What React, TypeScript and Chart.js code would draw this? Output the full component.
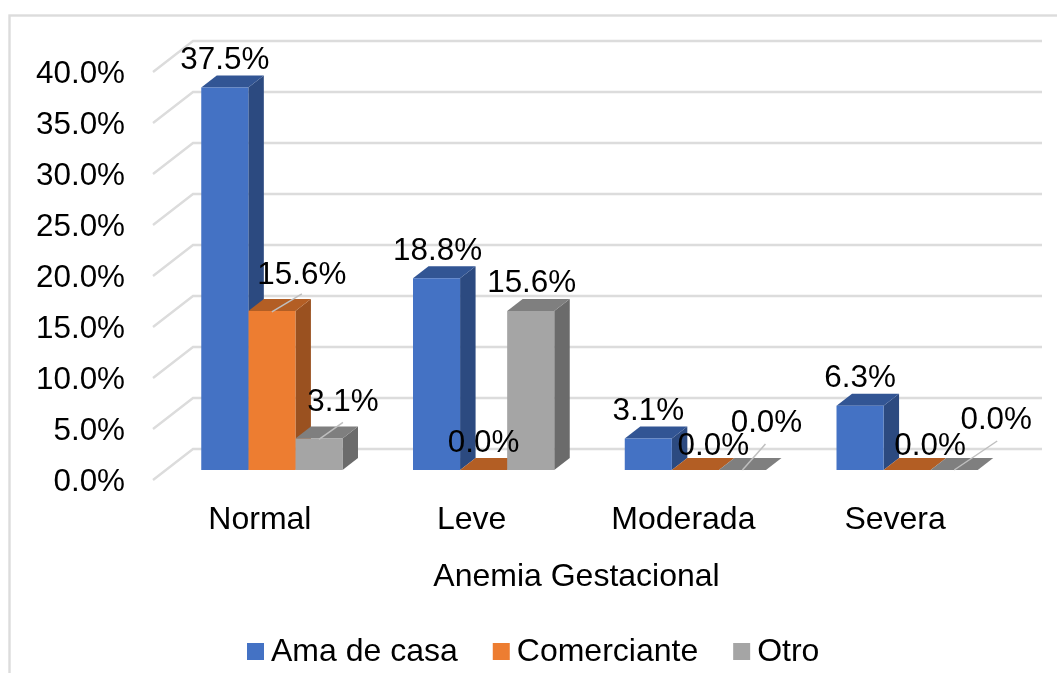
import React, { useEffect, useRef } from "react";
import { Chart, registerables } from "chart.js";

Chart.register(...registerables);

const categories = ["Normal", "Leve", "Moderada", "Severa"];
const seriesNames = ["Ama de casa", "Comerciante", "Otro"];
const amaDeCasa = [37.5, 18.8, 3.1, 6.3];
const comerciante = [15.6, 0.0, 0.0, 0.0];
const otro = [3.1, 15.6, 0.0, 0.0];

const frontColors = ["#4472C4", "#ED7D31", "#A5A5A5"];
const topColors = ["#325594", "#B35E24", "#7F7F7F"];
const sideColors = ["#2C4A80", "#9A5120", "#6B6B6B"];

const FONT = '"Liberation Sans", Arial, sans-serif';
const FONT_SIZE = 32;
const NUMBER_FONT_SIZE = 31.4;
const GRID = "#DCDCDC";
const WALL = { dx: 40, dy: -31, rightExtra: 42 };
const BAR_SHIFT = { dx: 13, dy: -10 };
const BAR_DEPTH = { dx: 15.5, dy: -12 };

// Per series, per category: label centre relative to the bar's front-top centre
const labelNudges = [
  [[0, -27], [1, -27], [0, -27], [0, -27]],
  [[30, -36], [0, -27], [18, -24], [23, -24]],
  [[24, -36], [1, -28], [24, -47], [42, -50]],
];
// Leader lines: [start dx, start dy, end dx, end dy], same reference point
const leaders = [
  [null, null, null, null],
  [[0, 1, 30, -17], null, null, null],
  [[0, 1, 24, -16], null, [0, 0, 23, -26], [0, 0, 43, -29]],
];

const wallPlugin = {
  id: "wall",
  beforeDatasetsDraw(chart: any) {
    const { ctx, chartArea, scales } = chart;
    ctx.save();
    ctx.strokeStyle = GRID;
    ctx.lineWidth = 2.4;
    ctx.strokeRect(9.5, 15.5, 1100, 800);
    scales.y.ticks.forEach((t: any) => {
      const y = scales.y.getPixelForValue(t.value);
      ctx.beginPath();
      ctx.moveTo(chartArea.left, y);
      ctx.lineTo(chartArea.left + WALL.dx, y + WALL.dy);
      ctx.lineTo(chartArea.right + WALL.rightExtra, y + WALL.dy);
      ctx.stroke();
    });
    ctx.restore();

    // bars are set back from the floor's front edge; everything until
    // afterDatasetsDraw is drawn in that shifted frame
    ctx.save();
    ctx.translate(BAR_SHIFT.dx, BAR_SHIFT.dy);
    chart.data.datasets.forEach((_: any, s: number) => {
      chart.getDatasetMeta(s).data.forEach((bar: any) => {
        const l = bar.x - bar.width / 2;
        const r = bar.x + bar.width / 2;
        const t = bar.y;
        const b = bar.base;
        const { dx, dy } = BAR_DEPTH;
        ctx.fillStyle = sideColors[s];
        ctx.beginPath();
        ctx.moveTo(r, t);
        ctx.lineTo(r + dx, t + dy);
        ctx.lineTo(r + dx, b + dy);
        ctx.lineTo(r, b);
        ctx.closePath();
        ctx.fill();
        ctx.fillStyle = topColors[s];
        ctx.beginPath();
        ctx.moveTo(l, t);
        ctx.lineTo(l + dx, t + dy);
        ctx.lineTo(r + dx, t + dy);
        ctx.lineTo(r, t);
        ctx.closePath();
        ctx.fill();
      });
    });
  },
  afterDatasetsDraw(chart: any) {
    const { ctx } = chart;
    ctx.strokeStyle = "#BFBFBF";
    ctx.lineWidth = 1.5;
    chart.data.datasets.forEach((_: any, s: number) => {
      chart.getDatasetMeta(s).data.forEach((bar: any, i: number) => {
        const seg = leaders[s][i];
        if (!seg) return;
        ctx.beginPath();
        ctx.moveTo(bar.x + seg[0], bar.y + seg[1]);
        ctx.lineTo(bar.x + seg[2], bar.y + seg[3]);
        ctx.stroke();
      });
    });
    ctx.fillStyle = "#000000";
    ctx.font = `${NUMBER_FONT_SIZE}px ${FONT}`;
    ctx.textAlign = "center";
    ctx.textBaseline = "middle";
    chart.data.datasets.forEach((ds: any, s: number) => {
      chart.getDatasetMeta(s).data.forEach((bar: any, i: number) => {
        const [nx, ny] = labelNudges[s][i];
        ctx.fillText(`${ds.data[i].toFixed(1)}%`, bar.x + nx, bar.y + ny);
      });
    });
    ctx.restore();

    // legend
    ctx.save();
    ctx.font = `${FONT_SIZE}px ${FONT}`;
    ctx.textBaseline = "middle";
    ctx.textAlign = "left";
    let x = 247;
    chart.data.datasets.forEach((ds: any) => {
      ctx.fillStyle = ds.backgroundColor;
      ctx.fillRect(x, 643, 17, 17);
      ctx.fillStyle = "#000000";
      ctx.fillText(ds.label, x + 24, 652);
      x += 24 + ctx.measureText(ds.label).width + 35;
    });
    ctx.restore();
  },
};

export default function App() {
  const ref = useRef<HTMLCanvasElement | null>(null);
  useEffect(() => {
    document.body.style.margin = "0";
    const values = [amaDeCasa, comerciante, otro];
    const chart = new Chart(ref.current as HTMLCanvasElement, {
      type: "bar",
      data: {
        labels: categories,
        datasets: seriesNames.map((label, s) => ({
          label,
          data: values[s],
          backgroundColor: frontColors[s],
          borderWidth: 0,
          clip: false as any,
          barPercentage: 1,
          categoryPercentage: 0.667,
        })),
      },
      options: {
        responsive: false,
        animation: false,
        layout: { padding: { top: 72, right: 57, left: 0, bottom: 0 } },
        plugins: { legend: { display: false }, tooltip: { enabled: false } },
        scales: {
          x: {
            border: { display: false },
            grid: { display: false, drawTicks: false },
            ticks: {
              color: "#000000",
              font: { family: FONT, size: FONT_SIZE },
              padding: 21,
              labelOffset: 1,
              maxRotation: 0,
              autoSkip: false,
            },
            title: {
              display: true,
              text: "Anemia Gestacional",
              color: "#000000",
              font: { family: FONT, size: FONT_SIZE },
              padding: { top: 0, bottom: 77 },
            },
            afterFit(scale: any) {
              scale.height = 193;
            },
          },
          y: {
            min: 0,
            max: 40,
            border: { display: false },
            grid: { display: false, drawTicks: false },
            ticks: {
              stepSize: 5,
              color: "#000000",
              font: { family: FONT, size: NUMBER_FONT_SIZE },
              padding: 28,
              labelOffset: 2,
              callback: (v: any) => `${Number(v).toFixed(1)}%`,
            },
            afterFit(scale: any) {
              scale.width = 153;
            },
          },
        },
      },
      plugins: [wallPlugin],
    });
    return () => chart.destroy();
  }, []);
  return <canvas ref={ref} width={1057} height={673} style={{ display: "block" }} />;
}
